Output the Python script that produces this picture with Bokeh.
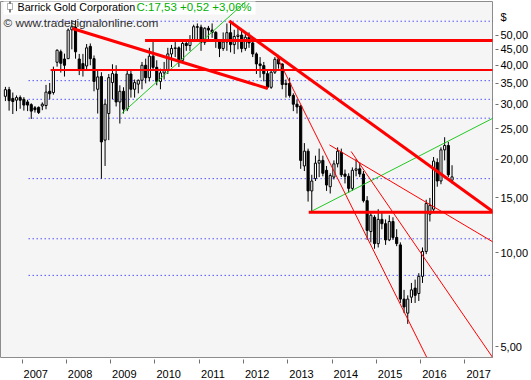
import pandas as pd
from bokeh.plotting import figure
from bokeh.models import (Range1d, FixedTicker, CustomJSTickFormatter, Label,
                          BoxAnnotation, ColumnDataSource, AllLabels)
from bokeh.embed import file_html
from bokeh.resources import INLINE

TITLE = "Barrick Gold Corporation"
QUOTE = "C:17,53 +0,52 +3,06%"
CREDIT = "\u00a9 www.tradesignalonline.com"
CURRENCY = "$"
FIRST_MONTH = "2006-08"

opens = [31.8, 33.4, 31.3, 30.9, 31.5,
         31.1, 30.5, 29.9, 29.2, 29.3, 29.6, 29.7, 33.0, 32.7, 40.9, 44.2, 41.9,
         42.0, 52.0, 53.0, 41.9, 40.5, 39.8, 46.0, 42.0, 33.5, 36.8, 23.0, 28.0,
         35.2, 37.5, 30.5, 33.0, 29.0, 37.5, 33.5, 34.8, 35.8, 40.0, 36.5, 42.8,
         39.4, 35.5, 37.8, 38.5, 43.5, 45.3, 45.5, 41.5, 47.0, 46.3, 48.1, 53.2,
         53.0, 47.4, 52.6, 51.9, 51.0, 47.7, 45.3, 47.5, 50.9, 46.6, 49.5, 50.0,
         45.3, 49.2, 47.2, 43.5, 40.4, 39.9, 37.6, 34.0, 38.0, 41.8, 40.4, 34.7,
         35.0, 32.0, 30.0, 29.6, 19.0, 21.2, 15.8, 17.3, 19.4, 19.8, 18.4, 16.3,
         17.5, 19.3, 21.0, 17.9, 17.6, 16.1, 18.4, 18.6, 17.9, 14.7, 11.7, 13.0,
         10.7, 12.8, 12.4, 11.0, 12.6, 11.2, 10.6, 7.1, 6.4, 7.2, 7.7, 7.4,
         8.4, 10.1, 13.3, 13.8, 19.5, 17.0, 21.4, 22.1, 17.1]
highs = [34.1, 34.1, 32.7, 32.0, 32.0,
         31.6, 31.0, 30.2, 29.6, 29.5, 30.4, 34.6, 35.1, 39.6, 45.0, 44.9, 43.6,
         52.5, 55.9, 55.8, 43.5, 43.5, 46.8, 47.0, 43.0, 38.7, 38.0, 31.0, 37.5,
         40.3, 40.0, 34.5, 34.0, 38.5, 38.5, 36.0, 36.0, 41.0, 42.0, 45.5, 47.5,
         41.5, 39.0, 41.0, 45.5, 46.5, 47.5, 46.0, 47.5, 48.5, 50.0, 54.0, 54.5,
         54.0, 53.0, 53.5, 54.5, 51.5, 48.5, 51.0, 54.5, 55.6, 52.0, 53.0, 52.0,
         50.5, 51.0, 47.5, 44.0, 42.5, 41.0, 38.5, 38.5, 42.5, 43.2, 40.5, 36.0,
         36.5, 32.5, 31.0, 29.8, 22.5, 21.6, 17.8, 20.5, 21.6, 20.5, 19.0, 18.0,
         19.8, 21.8, 21.6, 18.5, 18.0, 18.8, 20.0, 19.5, 18.3, 15.2, 13.6, 13.2,
         13.8, 13.6, 12.8, 13.2, 13.0, 11.9, 10.8, 7.6, 7.3, 8.0, 8.2, 8.6,
         10.4, 14.8, 15.0, 20.3, 20.1, 21.8, 23.5, 22.7, 19.1]
lows = [30.7, 28.6, 27.9, 28.5, 29.0,
        28.6, 28.5, 26.9, 28.2, 27.9, 28.7, 28.9, 31.1, 32.2, 39.6, 37.9, 36.8,
        41.9, 45.0, 42.0, 37.2, 36.8, 38.4, 40.0, 33.0, 28.0, 17.3, 19.0, 23.0,
        31.1, 29.5, 26.0, 28.0, 28.5, 31.5, 31.5, 32.5, 33.5, 35.0, 35.5, 38.5,
        34.5, 33.5, 36.0, 37.5, 39.5, 42.5, 39.5, 41.0, 44.5, 44.5, 47.5, 48.5,
        44.5, 46.5, 48.5, 49.0, 45.5, 42.5, 44.5, 44.5, 44.0, 43.5, 45.0, 44.0,
        44.5, 45.5, 42.5, 37.5, 36.5, 35.5, 33.6, 33.6, 37.5, 39.0, 33.5, 31.5,
        31.5, 28.5, 28.0, 18.6, 18.3, 14.6, 13.5, 17.0, 17.5, 17.6, 15.8, 15.5,
        17.2, 18.8, 17.5, 16.7, 15.6, 15.8, 17.6, 17.5, 14.5, 11.0, 10.8, 10.3,
        10.4, 11.9, 10.6, 10.9, 11.0, 10.5, 6.9, 6.4, 5.91, 6.9, 6.9, 7.0,
        8.0, 9.9, 12.6, 13.5, 16.3, 16.6, 19.8, 17.5, 16.7]
closes = [33.4, 30.8, 30.6, 31.5, 30.9,
          29.8, 29.8, 28.5, 28.8, 28.2, 30.0, 32.8, 32.4, 38.7, 44.7, 40.6, 40.0,
          51.9, 53.2, 44.2, 38.7, 38.7, 45.5, 42.0, 35.5, 36.7, 22.7, 30.0, 36.5,
          37.6, 30.5, 33.0, 28.9, 37.5, 33.5, 35.2, 35.8, 40.0, 36.5, 42.8, 39.4,
          35.5, 37.8, 38.5, 43.5, 45.3, 45.5, 41.5, 47.0, 46.3, 48.1, 53.2, 53.0,
          47.4, 52.6, 51.9, 51.0, 47.7, 45.3, 47.5, 50.9, 46.6, 49.5, 50.0, 45.3,
          49.2, 47.2, 43.5, 40.4, 39.9, 37.6, 34.0, 38.0, 41.8, 40.4, 34.7, 35.0,
          32.0, 30.0, 29.4, 19.8, 21.2, 15.8, 17.0, 19.4, 19.8, 18.0, 16.5, 17.7,
          19.3, 21.2, 17.8, 17.6, 16.1, 18.4, 18.6, 17.9, 14.7, 11.8, 13.2, 10.7,
          12.8, 12.4, 11.0, 12.6, 11.2, 10.7, 7.1, 6.7, 7.1, 7.6, 7.3, 8.4,
          10.1, 14.4, 14.2, 19.7, 17.0, 21.4, 22.1, 17.8, 17.53]

years = list(range(2007, 2018))
price_ticks = [5, 10, 15, 20, 25, 30, 35, 40, 45, 50]
currency_tick = 57
grid_levels = [55.4, 35.7, 31.1, 27.05, 17.3, 11.09, 8.46]

# trend lines drawn on the chart (time in years, price in $)
red_thick_x0 = [2008.136, 2009.778, 2011.679, 2013.473]
red_thick_y0 = [52.5, 48.0, 55.5, 13.5]
red_thick_x1 = [2012.548, 2017.7, 2017.7, 2017.7]
red_thick_y1 = [33.7, 48.0, 13.35, 13.5]

red_mid_x0 = [2007.645]
red_mid_y0 = [38.6]
red_mid_x1 = [2017.7]
red_mid_y1 = [38.6]

red_thin_x0 = [2012.735, 2013.941, 2014.43]
red_thin_y0 = [43.2, 22.2, 21.15]
red_thin_x1 = [2016.136, 2017.7, 2017.7]
red_thin_y1 = [4.62, 10.69, 4.45]

green_x0 = [2009.251, 2013.495]
green_y0 = [28.0, 13.5]
green_x1 = [2012.2, 2017.7]
green_y1 = [66.9, 27.36]

FONT = "Liberation Sans"

months = pd.date_range(FIRST_MONTH, periods=len(opens), freq="MS")
t = [d.year + (d.month - 0.5) / 12 for d in months]
src = ColumnDataSource(dict(
    t=t,
    top=[max(o, c) for o, c in zip(opens, closes)],
    bottom=[min(o, c) for o, c in zip(opens, closes)],
    high=highs, low=lows,
    fill=["white" if c >= o else "black" for o, c in zip(opens, closes)],
))

p = figure(width=531, height=380, output_backend="svg", toolbar_location=None,
           y_axis_type="log", y_axis_location="right", title=None,
           x_range=Range1d(2006.514, 2017.622), y_range=Range1d(4.61, 64.1),
           min_border_left=0, min_border_top=1, min_border_right=39,
           min_border_bottom=19)
p.background_fill_color = "#f5f5f5"
p.border_fill_color = "white"
p.outline_line_color = "#8c8c8c"
p.xgrid.visible = False
p.ygrid.visible = False

# title box
p.add_layout(BoxAnnotation(left=3, right=255, top=359, bottom=343,
                           left_units="screen", right_units="screen",
                           top_units="screen", bottom_units="screen",
                           fill_color="white", fill_alpha=1.0, line_color=None,
                           level="underlay"))
# candle icon
p.add_layout(BoxAnnotation(left=9, right=10, top=357, bottom=345,
                           left_units="screen", right_units="screen",
                           top_units="screen", bottom_units="screen",
                           fill_color="black", fill_alpha=1.0, line_color=None))
p.add_layout(BoxAnnotation(left=7, right=12, top=354, bottom=348,
                           left_units="screen", right_units="screen",
                           top_units="screen", bottom_units="screen",
                           fill_color="white", fill_alpha=1.0, line_color="black",
                           line_width=1))

# dotted horizontal levels
gl = ColumnDataSource(dict(x0=[2007.15] * len(grid_levels), x1=[2017.7] * len(grid_levels),
                           y=grid_levels))
p.segment(x0="x0", x1="x1", y0="y", y1="y", source=gl, line_color="#0000ff",
          line_width=1, line_dash="1 3")

# candles
p.segment(x0="t", x1="t", y0="low", y1="high", source=src, line_color="black", line_width=1)
p.vbar(x="t", width=0.048, top="top", bottom="bottom", source=src,
       fill_color="fill", line_color="black", line_width=1)

# trend lines
p.segment(x0=green_x0, y0=green_y0, x1=green_x1, y1=green_y1, line_color="#22c822", line_width=1)
p.segment(x0=red_thin_x0, y0=red_thin_y0, x1=red_thin_x1, y1=red_thin_y1, line_color="#ff0000", line_width=1)
p.segment(x0=red_mid_x0, y0=red_mid_y0, x1=red_mid_x1, y1=red_mid_y1, line_color="#ff0000", line_width=2)
p.segment(x0=red_thick_x0, y0=red_thick_y0, x1=red_thick_x1, y1=red_thick_y1, line_color="#ff0000", line_width=3)

# axes
xa = p.xaxis[0]
xa.ticker = FixedTicker(ticks=[y + 0.31 for y in years], minor_ticks=years)
xa.formatter = CustomJSTickFormatter(code="return Math.floor(tick).toString();")
xa.axis_line_color = None
xa.major_tick_line_color = None
xa.major_tick_out = 0
xa.major_tick_in = 0
xa.minor_tick_line_color = "#707070"
xa.minor_tick_in = -2
xa.minor_tick_out = 6
xa.major_label_standoff = 6
xa.major_label_text_font = FONT
xa.major_label_text_font_size = "11px"
xa.major_label_text_color = "black"

ya = p.yaxis[0]
ya.ticker = FixedTicker(ticks=price_ticks + [currency_tick], minor_ticks=price_ticks)
ya.formatter = CustomJSTickFormatter(
    args=dict(cur=CURRENCY),
    code="""
    if (tick > 52) { return cur; }
    return tick.toFixed(2).replace('.', ',');
    """)
ya.major_label_policy = AllLabels()
ya.axis_line_color = None
ya.major_tick_line_color = None
ya.major_tick_in = 0
ya.major_tick_out = 6
ya.minor_tick_line_color = "#707070"
ya.minor_tick_in = -3
ya.minor_tick_out = 6
ya.major_label_standoff = 2
ya.major_label_text_font = FONT
ya.major_label_text_font_size = "11px"
ya.major_label_text_color = "black"

# texts
p.add_layout(Label(x=17, y=351, x_units="screen", y_units="screen", text=TITLE,
                   text_font=FONT, text_font_size="10.7px", text_color="black",
                   text_baseline="middle"))
p.add_layout(Label(x=136, y=351, x_units="screen", y_units="screen", text=QUOTE,
                   text_font=FONT, text_font_size="11.5px", text_color="#00b000",
                   text_baseline="middle"))
p.add_layout(Label(x=3, y=335, x_units="screen", y_units="screen", text=CREDIT,
                   text_font=FONT, text_font_size="11.8px", text_color="#303030",
                   text_baseline="middle"))

open("out.html", "w").write(file_html(p, INLINE))
